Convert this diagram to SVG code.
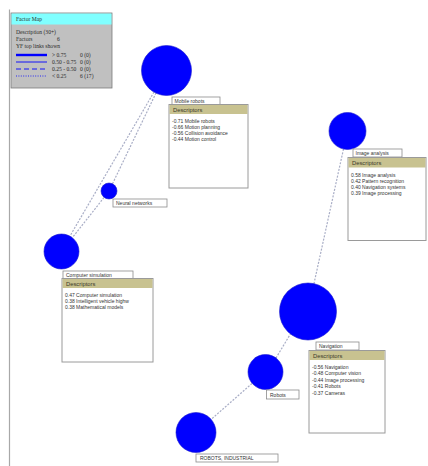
<svg xmlns="http://www.w3.org/2000/svg" width="428" height="466" viewBox="0 0 428 466">
  <style>
    .frame { fill: none; stroke: #a8a8a8; stroke-width: 1.2; }
    .node { fill: #0000ff; stroke: #1a1acc; stroke-width: 0.6; }
    .lbl { fill: #ffffff; stroke: #8c8c8c; stroke-width: 0.8; }
    .panel { fill: #ffffff; stroke: #9a9a9a; stroke-width: 1; }
    .phead { fill: #c8c290; stroke: none; }
    .t { font-family: "Liberation Sans", Arial, sans-serif; font-size: 5px; fill: #333333; }
    .th { font-family: "Liberation Sans", Arial, sans-serif; font-size: 5.8px; fill: #3a3a2a; }
    .lg { font-family: "Liberation Serif", "Times New Roman", serif; font-size: 5.6px; fill: #2a2a2a; }
    .link { fill: none; stroke: #a9aec6; stroke-width: 1.2; stroke-dasharray: 2 1.4; }
  </style>

  <!-- outer frame edge -->
  <path class="frame" d="M9.5,466 V9.5"/>

  <!-- legend -->
  <g id="legend">
    <rect x="11" y="13" width="101" height="75" fill="#c0c0c0" stroke="#7a7a7a" stroke-width="0.8"/>
    <rect x="11.5" y="13.5" width="100" height="11" fill="#80ffff"/>
    <text class="lg" x="16" y="21">Factor Map</text>
    <text class="lg" x="16" y="34">Description (30+)</text>
    <text class="lg" x="16" y="41">Factors</text>
    <text class="lg" x="57" y="41">6</text>
    <text class="lg" x="16" y="48">YF top links shown</text>
    <line x1="16" y1="55" x2="47" y2="55" stroke="#0000ff" stroke-width="2.4"/>
    <line x1="16" y1="62" x2="47" y2="62" stroke="#0000ff" stroke-width="0.9"/>
    <line x1="16" y1="69" x2="47" y2="69" stroke="#0000ff" stroke-width="0.9" stroke-dasharray="5 3"/>
    <line x1="16" y1="76" x2="47" y2="76" stroke="#0000ff" stroke-width="0.8" stroke-dasharray="1 1.4"/>
    <text class="lg" x="52" y="57">&gt; 0.75</text>
    <text class="lg" x="52" y="64">0.50 - 0.75</text>
    <text class="lg" x="52" y="71">0.25 - 0.50</text>
    <text class="lg" x="52" y="78">&lt; 0.25</text>
    <text class="lg" x="80" y="57">0 (0)</text>
    <text class="lg" x="80" y="64">0 (0)</text>
    <text class="lg" x="80" y="71">0 (0)</text>
    <text class="lg" x="80" y="78">6 (17)</text>
  </g>

  <!-- links -->
  <g id="links">
    <line class="link" x1="154" y1="92" x2="70" y2="236"/>
    <line class="link" x1="156" y1="93" x2="112.5" y2="183.8"/>
    <line class="link" x1="104" y1="197.5" x2="72.5" y2="237.5"/>
    <line class="link" x1="343.5" y1="149" x2="314" y2="283.5"/>
    <line class="link" x1="291" y1="333" x2="276" y2="358"/>
    <line class="link" x1="252" y1="383.5" x2="211" y2="419.5"/>
  </g>

  <!-- Mobile robots -->
  <g id="node-mobile-robots">
    <circle class="node" cx="166.5" cy="70.5" r="25"/>
    <rect class="lbl" x="172" y="97" width="48" height="8"/>
    <text class="t" x="174.5" y="103">Mobile robots</text>
    <rect class="panel" x="169" y="104.5" width="79" height="83.5"/>
    <rect class="phead" x="169.5" y="105" width="78" height="9"/>
    <text class="th" x="173" y="111.5">Descriptors</text>
    <text class="t" x="172" y="123">-0.71 Mobile robots</text>
    <text class="t" x="172" y="129">-0.66 Motion planning</text>
    <text class="t" x="172" y="135">-0.56 Collision avoidance</text>
    <text class="t" x="172" y="141">-0.44 Motion control</text>
  </g>

  <!-- Neural networks -->
  <g id="node-neural-networks">
    <circle class="node" cx="109" cy="191" r="8"/>
    <rect class="lbl" x="113" y="199" width="54" height="8"/>
    <text class="t" x="116" y="205">Neural networks</text>
  </g>

  <!-- Computer simulation -->
  <g id="node-computer-simulation">
    <circle class="node" cx="61.5" cy="251.5" r="17.5"/>
    <rect class="lbl" x="63" y="271" width="70" height="7.5"/>
    <text class="t" x="66" y="277">Computer simulation</text>
    <rect class="panel" x="62" y="278.5" width="91" height="83.5"/>
    <rect class="phead" x="62.5" y="279" width="90" height="9"/>
    <text class="th" x="66" y="285.5">Descriptors</text>
    <text class="t" x="65" y="297">0.47 Computer simulation</text>
    <text class="t" x="65" y="303">0.38 Intelligent vehicle highw</text>
    <text class="t" x="65" y="309">0.38 Mathematical models</text>
  </g>

  <!-- Image analysis -->
  <g id="node-image-analysis">
    <circle class="node" cx="347.5" cy="131" r="18.5"/>
    <rect class="lbl" x="353" y="149" width="49" height="8"/>
    <text class="t" x="355.5" y="155">Image analysis</text>
    <rect class="panel" x="348" y="157.5" width="78" height="83"/>
    <rect class="phead" x="348.5" y="158" width="77" height="9.5"/>
    <text class="th" x="352" y="165">Descriptors</text>
    <text class="t" x="351" y="177">0.58 Image analysis</text>
    <text class="t" x="351" y="183">0.42 Pattern recognition</text>
    <text class="t" x="351" y="189">0.40 Navigation systems</text>
    <text class="t" x="351" y="195">0.39 Image processing</text>
  </g>

  <!-- Navigation -->
  <g id="node-navigation">
    <circle class="node" cx="308" cy="311.5" r="28.5"/>
    <rect class="lbl" x="316" y="342" width="43" height="8"/>
    <text class="t" x="319" y="348">Navigation</text>
    <rect class="panel" x="309" y="350.5" width="76" height="82.5"/>
    <rect class="phead" x="309.5" y="351" width="75" height="9"/>
    <text class="th" x="313" y="357.5">Descriptors</text>
    <text class="t" x="312" y="369">-0.56 Navigation</text>
    <text class="t" x="312" y="375">-0.48 Computer vision</text>
    <text class="t" x="312" y="381.5">-0.44 Image processing</text>
    <text class="t" x="312" y="388">-0.41 Robots</text>
    <text class="t" x="312" y="394.5">-0.37 Cameras</text>
  </g>

  <!-- Robots -->
  <g id="node-robots">
    <circle class="node" cx="265.5" cy="372" r="17.5"/>
    <rect class="lbl" x="266.5" y="390" width="32.5" height="9"/>
    <text class="t" x="270" y="396.5">Robots</text>
  </g>

  <!-- ROBOTS, INDUSTRIAL -->
  <g id="node-robots-industrial">
    <circle class="node" cx="196" cy="432.5" r="20"/>
    <rect class="lbl" x="196" y="454" width="82" height="8"/>
    <text class="t" x="200" y="460">ROBOTS, INDUSTRIAL</text>
  </g>
</svg>
